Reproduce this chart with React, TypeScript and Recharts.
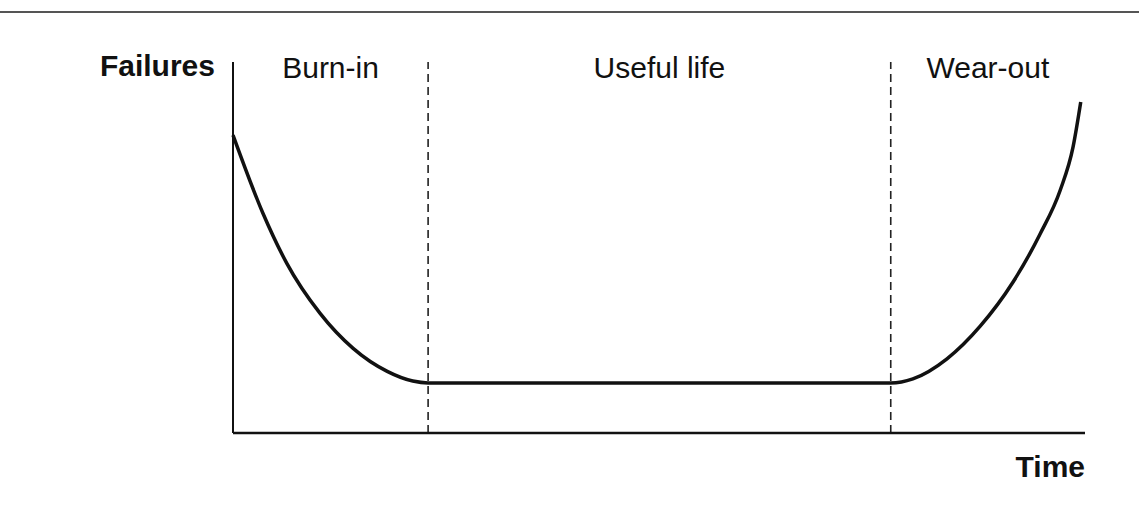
import React from 'react';
import { LineChart, Line, XAxis, YAxis, ReferenceLine, ReferenceArea, Label } from 'recharts';

// bathtub curve (time 0-100, failures 0-100)
const times = [0, 3.5, 6.3, 10.2, 14.1, 18.1, 21.1, 22.9, 50, 77.2, 79.8, 83.8, 87.7, 91.5, 94.7, 97.1, 98.6, 99.5];
const failures = [80.3, 59.3, 45.8, 32.3, 22.8, 16.6, 14.0, 13.5, 13.5, 13.5, 14.6, 20.0, 28.8, 40.5, 53.5, 65.5, 77.1, 89.2];

const phaseNames = ['Burn-in', 'Useful life', 'Wear-out'];
const phaseBounds = [0, 22.9, 77.2, 100];

const yTitle = 'Failures';
const xTitle = 'Time';

const FONT = '"Liberation Sans", Arial, sans-serif';

interface IPoint {
    time: number;
    failures: number;
}

const data: IPoint[] = times.map((t, i) => ({ time: t, failures: failures[i] }));

const PhaseLabel = (props: any) => {
    const { viewBox, value } = props;
    return (
        <text x={viewBox.x + viewBox.width / 2} y={viewBox.y + 16} textAnchor="middle"
              fontFamily={FONT} fontSize={30} fill="#111">
            {value}
        </text>
    );
};

const YTitleLabel = (props: any) => {
    const { viewBox } = props;
    return (
        <text x={viewBox.x - 18} y={viewBox.y + 14} textAnchor="end"
              fontFamily={FONT} fontSize={30} fontWeight="bold" fill="#111">
            {yTitle}
        </text>
    );
};

const XTitleLabel = (props: any) => {
    const { viewBox } = props;
    return (
        <text x={viewBox.x + viewBox.width} y={viewBox.y + 44} textAnchor="end"
              fontFamily={FONT} fontSize={30} fontWeight="bold" fill="#111">
            {xTitle}
        </text>
    );
};

const App: React.FC = () => {
    return (
        <div style={{ position: 'relative', width: 1139, height: 518, background: '#fff' }}>
            <style>{`body { margin: 0; }`}</style>
            {/* scan border at the top */}
            <div style={{ position: 'absolute', left: 0, top: 11, width: 1139, height: 2, background: '#555' }} />
            <LineChart width={1139} height={518} data={data}
                       margin={{ top: 62, left: 233, right: 54, bottom: 85 }}>
                <XAxis dataKey="time" type="number" domain={[0, 100]} hide />
                <YAxis type="number" domain={[0, 100]} hide />

                {phaseNames.map((name, i) => (
                    <ReferenceArea key={name} x1={phaseBounds[i]} x2={phaseBounds[i + 1]} y1={0} y2={100}
                                   fill="none" fillOpacity={0} stroke="none">
                        <Label value={name} content={<PhaseLabel />} />
                    </ReferenceArea>
                ))}

                {phaseBounds.slice(1, 3).map((b) => (
                    <ReferenceLine key={b} x={b} stroke="#222" strokeWidth={1.6} strokeDasharray="8 5" />
                ))}

                <ReferenceLine x={0} stroke="#111" strokeWidth={2}>
                    <Label content={<YTitleLabel />} />
                </ReferenceLine>
                <ReferenceLine y={0} stroke="#111" strokeWidth={2.5}>
                    <Label content={<XTitleLabel />} />
                </ReferenceLine>

                <Line dataKey="failures" type="monotone" stroke="#111" strokeWidth={3.5}
                      dot={false} activeDot={false} isAnimationActive={false} />
            </LineChart>
        </div>
    );
};

export default App;
